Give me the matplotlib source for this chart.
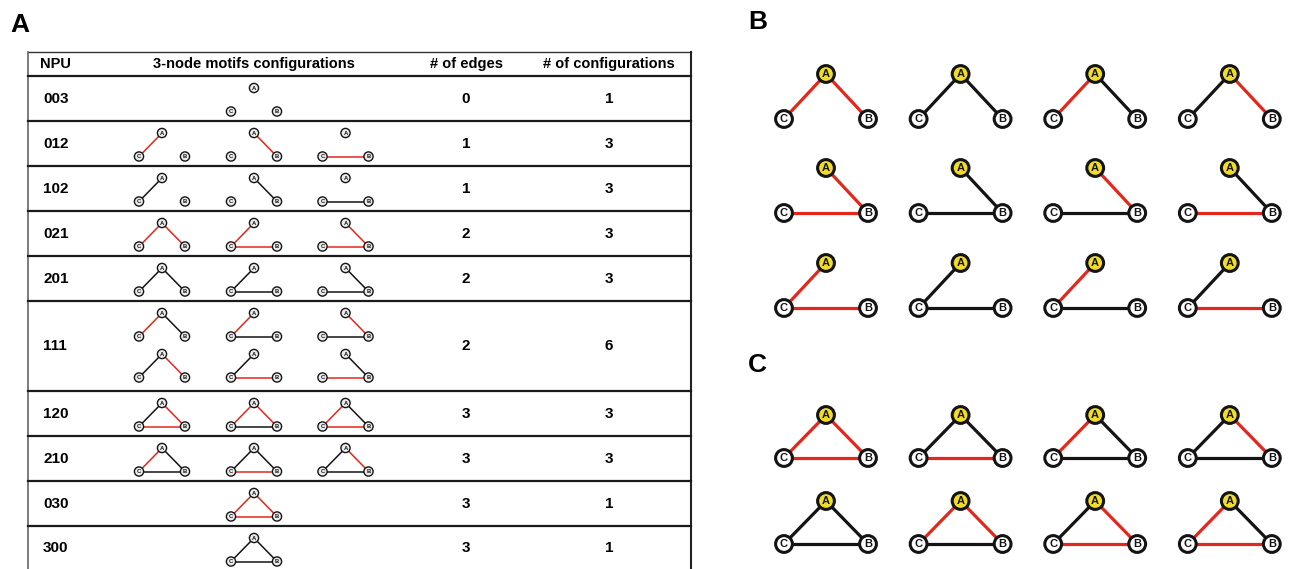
import math
import matplotlib
matplotlib.use('Agg')
import matplotlib.pyplot as plt
from matplotlib.patches import Circle

plt.rcParams['font.family'] = ['Liberation Sans', 'DejaVu Sans']

# table A
npu = ['003', '012', '102', '021', '201', '111', '120', '210', '030', '300']
n_edges = [0, 1, 1, 2, 2, 2, 3, 3, 3, 3]
n_configs = [1, 3, 3, 3, 3, 6, 3, 3, 1, 1]
# edge colours per configuration, order A-C, A-B, C-B ('r' red, 'k' black, '-' no edge)
table_configs = [
    ['---'],
    ['r--', '-r-', '--r'],
    ['k--', '-k-', '--k'],
    ['rr-', 'r-r', '-rr'],
    ['kk-', 'k-k', '-kk'],
    ['rk-', 'r-k', '-rk', 'kr-', 'k-r', '-kr'],
    ['krr', 'rrk', 'rkr'],
    ['rkk', 'kkr', 'krk'],
    ['rrr'],
    ['kkk'],
]
headers = ['NPU', '3-node motifs configurations', '# of edges', '# of configurations']

# panels B and C
panel_b = [['rr-', 'kk-', 'rk-', 'kr-'],
           ['-rr', '-kk', '-rk', '-kr'],
           ['r-r', 'k-k', 'r-k', 'k-r']]
panel_c = [['rrr', 'kkr', 'rkk', 'krk'],
           ['kkk', 'rrk', 'krr', 'rkr']]

RED = '#e2281d'
BLACK = '#141414'
YELLOW = '#f1dc2a'

W, H = 1295, 569
fig = plt.figure(figsize=(W / 100, H / 100), dpi=100)
ax = fig.add_axes([0, 0, 1, 1])
ax.set_xlim(0, W)
ax.set_ylim(H, 0)
ax.axis('off')


def motif(cx, ytop, dx, dy, r, codes, lw, node_lw, fs, fillA, fill):
    pos = {'A': (cx, ytop), 'C': (cx - dx, ytop + dy), 'B': (cx + dx, ytop + dy)}
    pairs = [('A', 'C'), ('A', 'B'), ('C', 'B')]
    for (p, q), c in zip(pairs, codes):
        if c == '-':
            continue
        col = RED if c == 'r' else BLACK
        ax.plot([pos[p][0], pos[q][0]], [pos[p][1], pos[q][1]], color=col,
                lw=lw, solid_capstyle='butt', zorder=2)
    for name, (x, y) in pos.items():
        ax.add_patch(Circle((x, y), r, facecolor=fillA if name == 'A' else fill,
                            edgecolor=BLACK, lw=node_lw, zorder=3))
        ax.text(x, y + 0.4, name, ha='center', va='center', fontsize=fs,
                fontweight='bold', color=BLACK, zorder=4)


# ---- panel A: table ----
ax.text(10, 25, 'A', fontsize=19, fontweight='bold', va='center', ha='left')

x0, x1 = 28, 691
top, head_bot = 52, 76
row_h = 45
col_x = [40, 254, 466, 609]
motif_x = [162, 254, 345.5]

ax.plot([x0, x1], [top, top], color='#333333', lw=1.0)
ax.plot([x0, x0], [top, H + 5], color='#666666', lw=1.2)
ax.plot([x1, x1], [top, H + 5], color='#222222', lw=1.5)
for i, h in enumerate(headers):
    ax.text(col_x[i], 64, h, fontsize=10.5, fontweight='bold',
            ha='left' if i == 0 else 'center', va='center')

y = head_bot
for k in range(len(npu)):
    nsub = math.ceil(n_configs[k] / 3)
    ax.plot([x0, x1], [y, y], color='#1a1a1a', lw=1.6)
    h = row_h * nsub
    yc = y + h / 2
    ax.text(col_x[0] + 3, yc, npu[k], fontsize=11, fontweight='bold', ha='left', va='center')
    ax.text(col_x[2], yc, str(n_edges[k]), fontsize=11, fontweight='bold', ha='center', va='center')
    ax.text(col_x[3], yc, str(n_configs[k]), fontsize=11, fontweight='bold', ha='center', va='center')
    cfgs = table_configs[k]
    for j, codes in enumerate(cfgs):
        sub = j // 3
        col = 1 if len(cfgs) == 1 else j % 3
        motif(motif_x[col], y + 12 + sub * 41, 23, 23.5, 4.6, codes,
              lw=1.1, node_lw=1.0, fs=4.2, fillA='#ececec', fill='#ececec')
    y += h

# ---- panels B and C ----
ax.text(748, 22, 'B', fontsize=19, fontweight='bold', va='center', ha='left')
ax.text(748, 365, 'C', fontsize=19, fontweight='bold', va='center', ha='left')

gx = [826 + 134.6 * i for i in range(4)]
b_rows = [74, 168, 263]
c_rows = [415, 501]
for r, row in enumerate(panel_b):
    for c, codes in enumerate(row):
        motif(gx[c], b_rows[r], 42, 45, 8.4, codes, lw=2.3, node_lw=2.2,
              fs=8, fillA=YELLOW, fill='white')
for r, row in enumerate(panel_c):
    for c, codes in enumerate(row):
        motif(gx[c], c_rows[r], 42, 43, 8.4, codes, lw=2.3, node_lw=2.2,
              fs=8, fillA=YELLOW, fill='white')

fig.savefig('out.png', dpi=100, facecolor='white')
